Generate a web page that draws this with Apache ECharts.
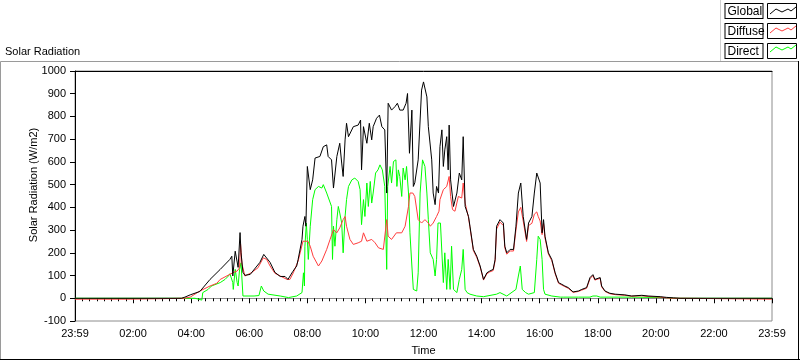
<!DOCTYPE html>
<html>
<head>
<meta charset="utf-8">
<script src="https://cdn.jsdelivr.net/npm/echarts@6/dist/echarts.min.js"></script>
<style>html,body{margin:0;padding:0;background:#fff}#c{width:800px;height:361px}</style>
</head>
<body>
<div id="c"></div>
<script>
// x values are minutes since midnight (0 = 23:59 start, 1440 = 23:59 end)
const xTickLabels = ['23:59','02:00','04:00','06:00','08:00','10:00','12:00','14:00','16:00','18:00','20:00','22:00','23:59'];
const seriesNames = ['Global','Diffuse','Direct'];

const globalData = [[0,0],[220,0],[227,5],[238,15],[258,30],[279,83],[300,127],[320,171],[324,185],[326,98],[331,207],[335,200],[337,136],[341,289],[343,200],[347,114],[351,101],[362,105],[382,158],[390,193],[403,158],[413,114],[424,96],[434,96],[440,83],[444,83],[450,118],[458,142],[461,171],[469,259],[471,317],[475,360],[477,317],[480,580],[486,478],[491,521],[496,617],[506,624],[513,667],[520,675],[523,624],[530,609],[534,485],[541,624],[547,682],[551,595],[554,536],[558,697],[561,770],[565,711],[575,755],[585,762],[590,784],[592,565],[596,755],[603,682],[608,770],[613,697],[616,755],[623,792],[629,806],[634,755],[640,741],[644,463],[647,858],[654,828],[661,843],[666,858],[671,828],[678,828],[684,858],[687,901],[691,638],[696,828],[699,492],[702,508],[709,609],[716,916],[720,952],[727,886],[730,755],[737,609],[740,463],[744,412],[747,492],[751,463],[754,667],[758,741],[761,580],[764,653],[768,711],[771,565],[773,762],[776,521],[782,404],[789,463],[794,551],[799,521],[802,711],[806,404],[813,360],[816,317],[823,215],[830,185],[837,142],[844,83],[851,112],[857,120],[864,127],[868,171],[871,317],[878,346],[885,331],[888,229],[892,200],[899,215],[906,215],[911,317],[916,463],[921,507],[926,360],[933,259],[937,331],[944,360],[949,463],[954,551],[957,558],[961,507],[965,288],[968,346],[971,273],[978,200],[985,171],[992,112],[999,69],[1006,61],[1012,54],[1019,47],[1029,28],[1040,32],[1047,39],[1057,47],[1064,91],[1070,104],[1074,83],[1078,91],[1085,91],[1088,54],[1095,32],[1105,22],[1116,18],[1136,15],[1150,10],[1171,13],[1184,10],[1209,7],[1222,4],[1236,2],[1250,0],[1440,0]];

const diffuseData = [[0,-4],[114,-4],[116,0],[225,0],[238,5],[258,32],[279,54],[293,66],[300,83],[326,112],[335,120],[340,134],[342,240],[345,150],[351,98],[364,112],[378,134],[389,178],[396,171],[403,142],[413,110],[424,98],[438,83],[444,83],[451,112],[461,164],[471,251],[481,251],[486,229],[492,185],[503,142],[510,164],[520,215],[527,259],[534,302],[541,288],[547,310],[554,346],[558,360],[561,317],[568,259],[575,237],[585,244],[592,251],[596,288],[603,251],[613,259],[620,244],[627,222],[637,215],[644,346],[647,273],[654,259],[664,288],[675,288],[682,317],[689,404],[692,463],[698,463],[702,448],[709,346],[716,331],[723,346],[730,331],[734,317],[740,331],[747,360],[752,383],[754,434],[761,478],[768,492],[773,536],[776,448],[780,390],[785,383],[792,448],[799,441],[802,507],[806,419],[813,355],[816,312],[823,210],[830,180],[837,138],[844,80],[851,108],[857,116],[864,122],[868,165],[871,305],[878,335],[885,320],[888,222],[892,194],[899,208],[906,208],[911,300],[916,380],[921,400],[926,340],[933,250],[937,320],[944,330],[949,370],[954,380],[957,360],[961,340],[965,280],[968,330],[971,265],[978,195],[985,166],[992,108],[999,66],[1006,58],[1012,51],[1019,44],[1029,26],[1040,30],[1047,36],[1057,44],[1064,86],[1070,100],[1074,80],[1078,88],[1085,88],[1088,50],[1095,30],[1105,20],[1116,16],[1136,13],[1150,9],[1171,11],[1184,8],[1209,5],[1222,2],[1236,0],[1258,0],[1260,-4],[1440,-4]];

const directData = [[0,0],[225,0],[227,3],[248,0],[252,-8],[262,-8],[264,25],[275,39],[282,54],[300,69],[310,83],[317,98],[320,108],[324,105],[326,69],[327,39],[331,127],[335,69],[337,54],[340,127],[343,156],[345,164],[347,10],[351,10],[370,10],[380,12],[385,54],[390,32],[399,18],[424,10],[441,3],[458,10],[469,25],[472,112],[474,54],[475,229],[478,331],[480,259],[482,171],[486,317],[491,434],[496,478],[503,492],[510,485],[513,500],[516,492],[520,463],[530,404],[532,171],[534,317],[537,229],[541,346],[544,404],[547,375],[551,331],[554,200],[558,360],[561,434],[565,492],[572,521],[578,529],[585,514],[589,478],[592,324],[596,434],[599,360],[603,507],[606,404],[610,514],[613,419],[616,463],[621,551],[626,565],[630,587],[635,565],[640,492],[644,127],[646,492],[651,580],[654,507],[658,602],[663,609],[665,492],[668,565],[671,536],[675,448],[678,573],[682,521],[685,580],[689,463],[692,288],[696,142],[699,39],[706,32],[709,112],[713,463],[718,609],[723,580],[727,463],[730,346],[734,200],[737,200],[740,171],[744,98],[747,171],[750,331],[755,331],[761,69],[764,200],[768,39],[771,171],[775,39],[778,229],[782,39],[789,25],[794,83],[799,127],[802,215],[806,39],[810,25],[816,18],[830,10],[844,7],[871,18],[878,25],[892,10],[911,39],[916,98],[920,142],[924,39],[931,25],[937,18],[949,25],[954,171],[957,273],[961,259],[965,171],[968,39],[971,18],[985,10],[1003,5],[1006,10],[1010,5],[1040,5],[1064,5],[1070,10],[1078,10],[1085,5],[1150,5],[1222,3],[1236,0],[1440,0]];

const FONT = 'Liberation Sans';
const chart = echarts.init(document.getElementById('c'), null, {renderer: 'canvas'});

const zig = (x0, y0) => [[x0+2,y0+11],[x0+8,y0+6],[x0+14,y0+9],[x0+20,y0+6],[x0+23,y0+8],[x0+28,y0+4]];

chart.setOption({
  animation: false,
  backgroundColor: '#ffffff',
  title: {
    text: 'Solar Radiation', left: 0, top: 41,
    textStyle: {fontFamily: FONT, fontSize: 11, fontWeight: 'normal', color: '#000'}
  },
  legend: {
    orient: 'vertical', right: 3, top: 3, align: 'right', padding: 0,
    itemWidth: 29, itemHeight: 15, itemGap: 4,
    selectedMode: false, icon: 'rect',
    itemStyle: {color: '#ffffff', borderColor: '#000000', borderWidth: 1},
    data: seriesNames,
    formatter: '{b|{name}}',
    textStyle: {
      fontFamily: FONT, fontSize: 12, color: '#000',
      rich: {b: {fontFamily: FONT, fontSize: 12, color: '#000', width: 33, height: 13, lineHeight: 13, align: 'left',
        borderColor: '#000', borderWidth: 1, padding: [1, 2, 0, 2], backgroundColor: '#fff'}}
    }
  },
  grid: {left: 75, right: 28, top: 71, bottom: 39, show: true, borderColor: '#8c8c8c', borderWidth: 1, backgroundColor: '#fff'},
  xAxis: [{
    type: 'value', min: 0, max: 1440, interval: 120,
    name: 'Time', nameLocation: 'middle', nameGap: 24,
    nameTextStyle: {fontFamily: FONT, fontSize: 11, color: '#000'},
    axisLine: {show: true, lineStyle: {color: '#8c8c8c', width: 1}},
    axisTick: {show: true, length: 5, lineStyle: {color: '#000'}},
    minorTick: {show: true, splitNumber: 8, length: 3, lineStyle: {color: '#000'}},
    splitLine: {show: false},
    axisLabel: {fontFamily: FONT, fontSize: 11, color: '#000', margin: 7, showMinLabel: true, showMaxLabel: true,
      formatter: v => xTickLabels[Math.round(v / 120)]}
  }, {
    type: 'value', min: 0, max: 1440, position: 'top',
    axisLine: {show: true, lineStyle: {color: '#000', width: 1}},
    axisTick: {show: false}, axisLabel: {show: false}, splitLine: {show: false}
  }],
  yAxis: {
    type: 'value', min: -100, max: 1000, interval: 100,
    name: 'Solar Radiation (W/m2)', nameLocation: 'middle', nameGap: 36, nameMoveOverlap: false,
    nameTextStyle: {fontFamily: FONT, fontSize: 11, color: '#000', padding: [0, 0, 0, 22]},
    axisLine: {show: true, lineStyle: {color: '#000', width: 1}},
    axisTick: {show: true, inside: false, length: 5, lineStyle: {color: '#000'}},
    splitLine: {show: false},
    axisLabel: {fontFamily: FONT, fontSize: 11, color: '#000', margin: 9, formatter: v => String(v)}
  },
  series: [
    {name: 'Global', type: 'line', data: globalData, showSymbol: false, symbol: 'none', z: 5,
      lineStyle: {color: '#000000', width: 1}, itemStyle: {color: '#000000'}},
    {name: 'Diffuse', type: 'line', data: diffuseData, showSymbol: false, symbol: 'none', z: 4,
      lineStyle: {color: '#ff3c3c', width: 1}, itemStyle: {color: '#ff3c3c'}},
    {name: 'Direct', type: 'line', data: directData, showSymbol: false, symbol: 'none', z: 3,
      lineStyle: {color: '#00ff00', width: 1}, itemStyle: {color: '#00ff00'}}
  ],
  graphic: [
    {type: 'line', shape: {x1: 0.5, y1: 61.5, x2: 798, y2: 61.5}, style: {stroke: '#9a9a9a', lineWidth: 1}, z: 10},
    {type: 'line', shape: {x1: 0.5, y1: 61.5, x2: 0.5, y2: 359.5}, style: {stroke: '#9a9a9a', lineWidth: 1}, z: 10},
    {type: 'line', shape: {x1: 0, y1: 359.5, x2: 800, y2: 359.5}, style: {stroke: '#000', lineWidth: 1}, z: 10},
    {type: 'line', shape: {x1: 798.5, y1: 61, x2: 798.5, y2: 360}, style: {stroke: '#000', lineWidth: 1}, z: 10},
    {type: 'line', shape: {x1: 720.5, y1: 0, x2: 720.5, y2: 61}, style: {stroke: '#d0d0d0', lineWidth: 1}, z: 10},
    {type: 'polyline', shape: {points: zig(768, 3)}, style: {stroke: '#000000', lineWidth: 1, fill: null}, z: 100},
    {type: 'polyline', shape: {points: zig(768, 22)}, style: {stroke: '#ff3c3c', lineWidth: 1, fill: null}, z: 100},
    {type: 'polyline', shape: {points: zig(768, 41)}, style: {stroke: '#00ff00', lineWidth: 1, fill: null}, z: 100}
  ]
});
</script>
</body>
</html>
